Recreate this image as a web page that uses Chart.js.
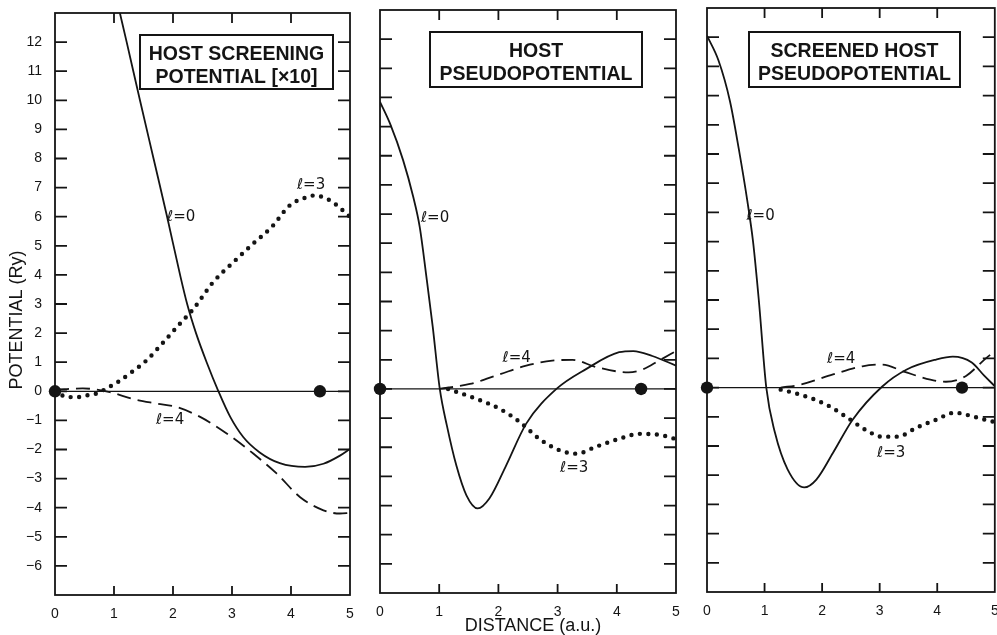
<!DOCTYPE html>
<html>
<head>
<meta charset="utf-8">
<title>Potential vs distance</title>
<script src="https://cdn.jsdelivr.net/npm/chart.js@4.4.1/dist/chart.umd.min.js"></script>
<style>
  html, body { margin: 0; padding: 0; background: #fff; }
  #wrap { position: relative; width: 997px; height: 635px; overflow: hidden; background: #fff; }
  canvas { position: absolute; top: 0; }
</style>
</head>
<body>
<div id="wrap">
  <canvas id="screening" width="365" height="635" style="left:0px"></canvas>
  <canvas id="pseudo" width="325" height="635" style="left:365px"></canvas>
  <canvas id="screened" width="311" height="635" style="left:690px"></canvas>
</div>
<script>
'use strict';
let ink = '#141414';
let fontFamily = "'Liberation Sans', Arial, Helvetica, sans-serif";

// axis ticks shared by all three panels
let xTicks = [0, 1, 2, 3, 4, 5];
let yTicks = [-6, -5, -4, -3, -2, -1, 0, 1, 2, 3, 4, 5, 6, 7, 8, 9, 10, 11, 12];

// host screening potential (x10)
let screenL0X = [1.10, 1.215, 1.44, 1.67, 1.90, 2.12, 2.24, 2.39, 2.57, 2.77, 2.97, 3.19, 3.47, 3.81, 4.24, 4.55, 4.83, 5.0];
let screenL0Y = [13.0, 12.0, 10.0, 8.0, 6.0, 4.0, 3.0, 2.0, 1.0, 0.0, -0.88, -1.57, -2.1, -2.47, -2.6, -2.49, -2.21, -1.98];
let screenL3X = [0, 0.22, 0.37, 0.54, 0.71, 0.9, 1.05, 1.3, 1.55, 1.83, 2.12, 2.35, 2.68, 3.02, 3.36, 3.67, 3.98, 4.27, 4.4, 4.66, 5.0];
let screenL3Y = [0, -0.2, -0.2, -0.14, -0.07, 0.13, 0.3, 0.66, 1.06, 1.67, 2.33, 2.84, 3.75, 4.43, 5.08, 5.64, 6.39, 6.67, 6.73, 6.56, 6.0];
let screenL4X = [0, 0.47, 0.93, 1.33, 1.72, 2.06, 2.46, 2.91, 3.36, 3.76, 4.15, 4.55, 4.83, 5.0];
let screenL4Y = [0.05, 0.1, -0.03, -0.27, -0.42, -0.54, -0.88, -1.45, -2.14, -2.83, -3.63, -4.09, -4.2, -4.18];
let screenDotX = [0, 4.49];

// host pseudopotential
let pseudoL0X = [0, 0.17, 0.39, 0.56, 0.67, 0.79, 0.89, 1.01, 1.13, 1.29, 1.46, 1.65, 1.85, 2.13, 2.47, 2.98, 3.48, 4.04, 4.28, 4.6, 5.0];
let pseudoL0Y = [9.85, 9.1, 7.85, 6.6, 5.57, 3.75, 2.15, 0, -1.26, -2.63, -3.65, -4.1, -3.75, -2.63, -1.19, 0, 0.68, 1.26, 1.3, 1.13, 0.8];
let pseudoL4X = [1.0, 1.52, 2.02, 2.47, 2.91, 3.25, 3.65, 4.2, 4.45, 4.71, 5.0];
let pseudoL4Y = [0, 0.17, 0.5, 0.8, 0.97, 1.0, 0.75, 0.57, 0.68, 0.97, 1.3];
let pseudoL3X = [1.15, 1.63, 2.02, 2.36, 2.69, 3.03, 3.32, 3.65, 4.04, 4.38, 4.71, 5.0];
let pseudoL3Y = [0, -0.34, -0.68, -1.13, -1.71, -2.1, -2.22, -1.98, -1.71, -1.54, -1.57, -1.72];
let pseudoDotX = [0, 4.41];

// screened host pseudopotential
let scrnL0X = [0, 0.2, 0.4, 0.55, 0.7, 0.8, 0.9, 1.03, 1.18, 1.4, 1.69, 1.9, 2.19, 2.53, 3.04, 3.47, 3.98, 4.27, 4.6, 4.82, 5.0];
let scrnL0Y = [12.05, 11.2, 9.8, 8.2, 6.4, 5.0, 3.0, 0, -1.54, -2.8, -3.42, -3.15, -2.23, -1.1, 0.03, 0.62, 0.96, 1.06, 0.86, 0.4, 0.05];
let scrnL4X = [1.28, 1.62, 2.19, 2.7, 3.04, 3.42, 3.88, 4.15, 4.5, 4.82, 5.0];
let scrnL4Y = [0, 0.1, 0.45, 0.73, 0.79, 0.55, 0.27, 0.2, 0.4, 0.96, 1.25];
let scrnL3X = [1.28, 1.62, 2.07, 2.41, 2.75, 3.04, 3.31, 3.64, 3.98, 4.3, 4.57, 4.83, 5.0];
let scrnL3Y = [-0.07, -0.24, -0.58, -0.99, -1.44, -1.68, -1.68, -1.37, -1.1, -0.86, -0.96, -1.1, -1.18];
let scrnDotX = [0, 4.43];

function pts(xs, ys) {
    let out = [];
    for (let i = 0; i < xs.length; i++) {
        out.push({ x: xs[i], y: ys[i] });
    }
    return out;
}

function solid(xs, ys) {
    return { data: pts(xs, ys), borderColor: ink, borderWidth: 1.8, pointRadius: 0, cubicInterpolationMode: 'monotone' };
}

function dashed(xs, ys) {
    return { data: pts(xs, ys), borderColor: ink, borderWidth: 1.8, borderDash: [14, 7], pointRadius: 0, cubicInterpolationMode: 'monotone' };
}

function dotted(xs, ys) {
    return { data: pts(xs, ys), borderColor: ink, borderWidth: 4.4, borderDash: [0, 8.5], borderCapStyle: 'round',
        pointRadius: 0, cubicInterpolationMode: 'monotone' };
}

function knots(xs) {
    return { data: xs.map(x => ({ x: x, y: 0 })), showLine: false, pointRadius: 6.2, pointBackgroundColor: ink,
        pointBorderWidth: 0, clip: false };
}

function minus(v) {
    return v < 0 ? '\u2212' + Math.abs(v) : String(v);
}

// frame, inward ticks, zero line, boxed title and curve labels of one panel
function panelPlugin(cfg) {
    return {
        id: 'panel',
        beforeDatasetsDraw(chart) {
            let ctx = chart.ctx;
            let a = chart.chartArea;
            let y0 = chart.scales.y.getPixelForValue(0);
            ctx.save();
            ctx.strokeStyle = ink;
            ctx.lineWidth = 1.2;
            ctx.beginPath();
            ctx.moveTo(a.left, y0);
            ctx.lineTo(a.right, y0);
            ctx.stroke();
            ctx.restore();
        },
        afterDatasetsDraw(chart) {
            let ctx = chart.ctx;
            let a = chart.chartArea;
            let x = chart.scales.x;
            let y = chart.scales.y;
            ctx.save();
            ctx.strokeStyle = ink;
            ctx.fillStyle = ink;
            ctx.lineWidth = 1.8;
            ctx.strokeRect(a.left, a.top, a.right - a.left, a.bottom - a.top);

            ctx.beginPath();
            yTicks.forEach(v => {
                let py = y.getPixelForValue(v);
                ctx.moveTo(a.left, py);
                ctx.lineTo(a.left + 12, py);
                ctx.moveTo(a.right, py);
                ctx.lineTo(a.right - 12, py);
            });
            xTicks.slice(1, -1).forEach(v => {
                let px = x.getPixelForValue(v);
                ctx.moveTo(px, a.bottom);
                ctx.lineTo(px, a.bottom - 9);
                ctx.moveTo(px, a.top);
                ctx.lineTo(px, a.top + 10);
            });
            ctx.stroke();

            // boxed panel title
            let b = cfg.box;
            ctx.fillStyle = '#fff';
            ctx.fillRect(b.left, b.top, b.w, b.h);
            ctx.lineWidth = 2;
            ctx.strokeRect(b.left, b.top, b.w, b.h);
            ctx.fillStyle = ink;
            ctx.font = 'bold 19.5px ' + fontFamily;
            ctx.textAlign = 'center';
            ctx.textBaseline = 'alphabetic';
            ctx.fillText(cfg.title[0], b.left + b.w / 2, b.top + 25);
            ctx.fillText(cfg.title[1], b.left + b.w / 2, b.top + 48);

            // curve labels
            ctx.font = "15px 'DejaVu Sans', " + fontFamily;
            ctx.textBaseline = 'middle';
            cfg.labels.forEach(l => {
                ctx.fillText(l.text, x.getPixelForValue(l.x), y.getPixelForValue(l.y));
            });

            ctx.font = '18px ' + fontFamily;
            if (cfg.yTitle) {
                ctx.save();
                ctx.translate(cfg.yTitle.x, cfg.yTitle.y);
                ctx.rotate(-Math.PI / 2);
                ctx.fillText(cfg.yTitle.text, 0, 0);
                ctx.restore();
            }
            if (cfg.xTitle) {
                ctx.fillText(cfg.xTitle.text, cfg.xTitle.x, cfg.xTitle.y);
            }
            ctx.restore();
        }
    };
}

function makePanel(id, datasets, cfg) {
    let tickFont = { family: fontFamily, size: 14 };
    new Chart(document.getElementById(id), {
        type: 'line',
        data: { datasets: datasets },
        options: {
            responsive: false,
            animation: false,
            devicePixelRatio: 1,
            layout: { padding: { top: cfg.pad.top, left: cfg.pad.left, right: cfg.pad.right, bottom: 0 } },
            plugins: { legend: { display: false }, tooltip: { enabled: false } },
            scales: {
                x: {
                    type: 'linear', min: 0, max: 5,
                    grid: { display: false }, border: { display: false },
                    ticks: { color: ink, font: tickFont, padding: 3, autoSkip: false, maxRotation: 0 },
                    afterBuildTicks: s => { s.ticks = xTicks.map(v => ({ value: v })); },
                    afterFit: s => { s.height = cfg.xHeight; s.paddingLeft = 0; s.paddingRight = 0; }
                },
                y: {
                    type: 'linear', min: -7, max: 13,
                    display: cfg.showY,
                    grid: { display: false }, border: { display: false },
                    ticks: { color: ink, font: tickFont, padding: 5, callback: v => minus(v) },
                    afterBuildTicks: s => { s.ticks = yTicks.map(v => ({ value: v })); },
                    afterFit: s => { s.width = cfg.yWidth; s.paddingTop = 0; s.paddingBottom = 0; }
                }
            }
        },
        plugins: [panelPlugin(cfg)]
    });
}

makePanel('screening', [
    knots(screenDotX),
    solid(screenL0X, screenL0Y),
    dotted(screenL3X, screenL3Y),
    dashed(screenL4X, screenL4Y)
], {
    pad: { top: 13, left: 0, right: 15 }, xHeight: 40, showY: true, yWidth: 55,
    title: ['HOST SCREENING', 'POTENTIAL [\u00d710]'],
    box: { left: 140, top: 35, w: 193, h: 54 },
    labels: [
        { text: '\u2113=0', x: 2.14, y: 6.0 },
        { text: '\u2113=3', x: 4.34, y: 7.08 },
        { text: '\u2113=4', x: 1.95, y: -1.0 }
    ],
    yTitle: { text: 'POTENTIAL (Ry)', x: 17, y: 320 }
});

makePanel('pseudo', [
    knots(pseudoDotX),
    solid(pseudoL0X, pseudoL0Y),
    dotted(pseudoL3X, pseudoL3Y),
    dashed(pseudoL4X, pseudoL4Y)
], {
    pad: { top: 10, left: 15, right: 14 }, xHeight: 42, showY: false, yWidth: 0,
    title: ['HOST', 'PSEUDOPOTENTIAL'],
    box: { left: 65, top: 32, w: 212, h: 55 },
    labels: [
        { text: '\u2113=0', x: 0.93, y: 5.87 },
        { text: '\u2113=4', x: 2.31, y: 1.06 },
        { text: '\u2113=3', x: 3.28, y: -2.73 }
    ],
    xTitle: { text: 'DISTANCE (a.u.)', x: 168, y: 626 }
});

makePanel('screened', [
    knots(scrnDotX),
    solid(scrnL0X, scrnL0Y),
    dotted(scrnL3X, scrnL3Y),
    dashed(scrnL4X, scrnL4Y)
], {
    pad: { top: 8, left: 17, right: 0 }, xHeight: 43, showY: false, yWidth: 0,
    title: ['SCREENED HOST', 'PSEUDOPOTENTIAL'],
    box: { left: 59, top: 32, w: 211, h: 55 },
    labels: [
        { text: '\u2113=0', x: 0.93, y: 5.86 },
        { text: '\u2113=4', x: 2.33, y: 0.96 },
        { text: '\u2113=3', x: 3.2, y: -2.23 }
    ]
});
</script>
</body>
</html>
